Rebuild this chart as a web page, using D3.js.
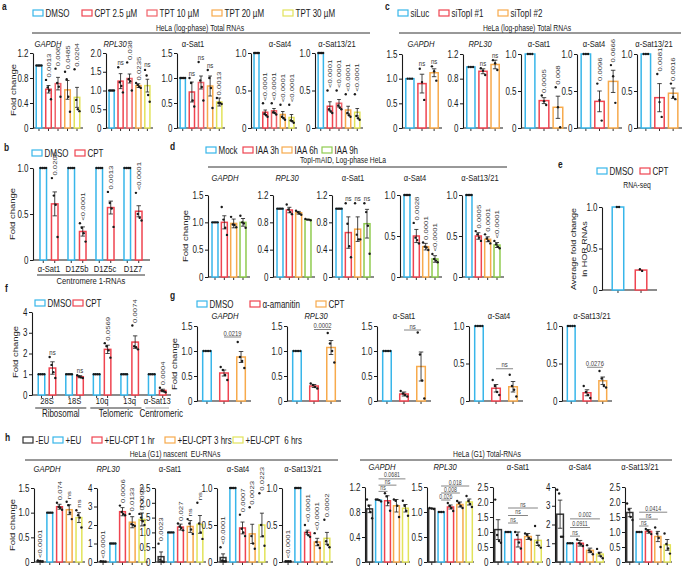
<!DOCTYPE html>
<html><head><meta charset="utf-8">
<script src="https://cdn.jsdelivr.net/npm/d3@7"></script>
<style>
body{margin:0;background:#fff}
svg{display:block;font-family:"Liberation Sans",Arial,Helvetica,sans-serif}
</style></head><body>
<svg id="fig" width="683" height="570"></svg>
<script>
// ================= DATA =================
const targets = ["GAPDH","RPL30","α-Sat1","α-Sat4","α-Sat13/21"];

// ---- a ----
const aSeries = ["DMSO","CPT 2.5 µM","TPT 10 µM","TPT 20 µM","TPT 30 µM"];
const aTitle = "HeLa (log-phase) Total RNAs";
const aValues = [[1.0,0.62,0.71,0.61,0.49],[1.0,1.25,1.32,1.13,1.13],[1.0,0.72,0.91,0.84,0.52],[1.0,0.21,0.23,0.18,0.14],[1.0,0.29,0.33,0.24,0.21]];
const aErrors = [[0,0.06,0.10,0.15,0.16],[0,0.20,0.12,0.05,0.17],[0,0.20,0.13,0.20,0.08],[0,0.03,0.03,0.04,0.04],[0,0.06,0.05,0.05,0.05]];
const aPoints = [
 [[1,1,1,1],[0.77,0.65,0.6,0.46],[0.95,0.72,0.66,0.5],[0.9,0.78,0.5,0.26],[0.94,0.45,0.3,0.27]],
 [[1,1,1,1],[1.62,1.22,1.12,0.95],[1.75,1.3,1.25,1.0],[1.2,1.15,1.1,1.07],[1.55,1.4,0.88,0.7]],
 [[1,1,1,1],[1.0,0.9,0.55,0.43],[1.32,0.95,0.82,0.55],[1.16,1.0,0.8,0.4],[0.6,0.5,0.5,0.48]],
 [[1,1,1,1],[0.33,0.19,0.17,0.15],[0.33,0.21,0.2,0.18],[0.31,0.15,0.13,0.11],[0.31,0.1,0.09,0.07]],
 [[1,1,1,1],[0.5,0.25,0.22,0.2],[0.5,0.3,0.27,0.25],[0.45,0.2,0.17,0.15],[0.45,0.16,0.13,0.11]]];
const aPvals = [["","0.0013","0.008","0.0485","0.0204"],["","ns","0.038","0.0235","ns"],["","ns","ns","ns","0.0013"],["","<0.0001","<0.0001","<0.0001","<0.0001"],["","<0.0001","<0.0001","<0.0001","<0.0001"]];
const aTicks = [[0,0.4,0.8,1.2],[0,0.5,1,1.5,2],[0,0.5,1,1.5],[0,0.5,1],[0,0.5,1]];

// ---- b ----
const bSeries = ["DMSO","CPT"];
const bGroups = ["α-Sat1","D1Z5b","D1Z5c","D1Z7"];
const bCaption = "Centromere 1-RNAs";
const bValues = [[1,1,1,1],[0.61,0.31,0.57,0.53]];
const bErrors = [[0,0,0,0],[0.13,0.05,0.07,0.06]];
const bPoints = [[[1,1,1,1],[1,1,1,1],[1,1,1,1],[1,1,1,1]],[[0.89,0.7,0.6,0.25],[0.4,0.35,0.29,0.2],[0.74,0.62,0.56,0.36],[0.73,0.5,0.46,0.43]]];
const bPvals = [["","","",""],["0.0206","<0.0001","0.0013","<0.0001"]];
const bTicks = [0,0.5,1];

// ---- c ----
const cSeries = ["siLuc","siTopI #1","siTopI #2"];
const cTitle = "HeLa (log-phase) Total RNAs";
const cValues = [[1.0,0.9,1.12],[0.99,0.92,1.03],[1.0,0.37,0.28],[1.0,0.36,0.63],[1.0,0.41,0.47]];
const cErrors = [[0,0.19,0.08],[0,0.04,0.07],[0,0.04,0.15],[0,0.14,0.15],[0,0.19,0.07]];
const cPoints = [
 [[1,1,1],[1.2,0.93,0.57],[1.25,1.15,0.96]],
 [[0.99,0.99,0.99],[0.97,0.93,0.86],[1.1,1.05,0.94]],
 [[1,1,1],[0.44,0.36,0.31],[0.55,0.28,0.01]],
 [[1,1,1],[0.6,0.38,0.1],[0.85,0.7,0.34]],
 [[1,1,1],[0.73,0.35,0.15],[0.6,0.42,0.39]]];
const cPvals = [["","ns","ns"],["","ns","ns"],["","0.0005","0.008"],["","0.0096","0.0666"],["","0.0081","0.0016"]];
const cTicks = [[0,0.5,1,1.5],[0,0.4,0.8,1.2],[0,0.5,1],[0,0.5,1],[0,0.5,1]];

// ---- d ----
const dSeries = ["Mock","IAA 3h","IAA 6h","IAA 9h"];
const dTitle = "TopI-mAID, Log-phase HeLa";
const dValues = [[1.0,1.0,0.98,1.0],[1.0,0.98,0.94,0.84],[1.0,0.65,0.7,0.78],[1.0,0.5,0.37,0.22],[1.0,0.5,0.46,0.39]];
const dErrors = [[0,0.12,0.08,0.07],[0,0.04,0.02,0.01],[0,0.23,0.18,0.21],[0,0.08,0.04,0.04],[0,0.04,0.03,0.03]];
const dPoints = [
 [[1,1,1,1],[1.28,1.05,0.9,0.77],[1.1,0.96,0.95,0.91],[1.12,1.0,0.98,0.9]],
 [[1,1,1,1],[1.06,0.99,0.95,0.92],[0.97,0.95,0.93,0.91],[0.85,0.84,0.84,0.83]],
 [[1,1,1,1],[1.08,0.78,0.45,0.29],[1.08,0.62,0.55,0.55],[1.08,0.95,0.75,0.34]],
 [[1,1,1,1],[0.66,0.48,0.45,0.41],[0.42,0.37,0.36,0.33],[0.28,0.22,0.2,0.18]],
 [[1,1,1,1],[0.56,0.52,0.48,0.44],[0.52,0.47,0.44,0.41],[0.44,0.4,0.37,0.35]]];
const dPvals = [["","","",""],["","","",""],["","ns","ns","ns"],["","0.0028","0.0001","<0.0001"],["","0.0005","0.0001","<0.0001"]];
const dTicks = [[0,0.5,1,1.5],[0,0.4,0.8,1.2],[0,0.4,0.8,1.2],[0,0.5,1],[0,0.5,1]];

// ---- e ----
const eSeries = ["DMSO","CPT"];
const eTitle = "RNA-seq";
const eYLabel = ["Average fold change","in HOR RNAs"];
const eValues = [1.0,0.24];
const eErrors = [0,0.01];
const ePoints = [[1,1],[0.25,0.23]];
const eTicks = [0,0.5,1];

// ---- f ----
const fSeries = ["DMSO","CPT"];
const fGroups = ["28S","18S","10q","13q","α-Sat13"];
const fCategories = [{label:"Ribosomal",from:0,to:1},{label:"Telomeric",from:2,to:3},{label:"Centromeric",from:4,to:4}];
const fValues = [[1,1,1,1,1],[1.3,0.88,2.2,2.55,0.22]];
const fErrors = [[0,0,0,0,0],[0.3,0.05,0.2,0.3,0.06]];
const fPoints = [[[1,1,1,1],[1,1,1,1],[1,1,1,1],[1,1,1,1],[1,1,1,1]],[[1.83,1.45,1.1,0.82],[0.95,0.9,0.85,0.82],[2.5,2.35,2.15,1.8],[3.35,2.35,2.3,2.2],[0.35,0.22,0.18,0.13]]];
const fPvals = [["","","","",""],["ns","ns","0.0569","0.0074","0.0004"]];
const fTicks = [0,1,2,3,4];

// ---- g ----
const gSeries = ["DMSO","α-amanitin","CPT"];
const gValues = [[1.0,0.56,0.88],[1.0,0.3,1.07],[1.0,0.14,0.69],[1.0,0.17,0.19],[1.0,0.11,0.27]];
const gErrors = [[0,0.06,0.11],[0,0.03,0.14],[0,0.04,0.29],[0,0.05,0.07],[0,0.04,0.05]];
const gPoints = [
 [[1,1,1,1],[0.68,0.62,0.52,0.42],[1.18,0.88,0.8,0.66]],
 [[1,1,1,1],[0.35,0.32,0.28,0.25],[1.36,1.15,1.0,0.77]],
 [[1,1,1,1],[0.2,0.15,0.12,0.09],[1.37,0.93,0.41,0.05]],
 [[1,1,1,1],[0.28,0.2,0.12,0.08],[0.35,0.2,0.15,0.06]],
 [[1,1,1,1],[0.2,0.12,0.08,0.04],[0.4,0.3,0.2,0.18]]];
const gBrackets = [[[1,2,"0.0219",1.28]],[[1,2,"0.0002",1.43]],[[1,2,"ns",1.42]],[[1,2,"ns",0.43]],[[1,2,"0.0276",0.45]]];
const gTicks = [[0,0.5,1,1.5],[0,0.5,1,1.5],[0,0.5,1,1.5],[0,0.5,1],[0,0.5,1]];

// ---- h ----
const hSeries = ["-EU","+EU","+EU-CPT 1 hr","+EU-CPT 3 hrs","+EU-CPT  6 hrs"];
const hnTitle = "HeLa (G1) nascent  EU-RNAs";
const htTitle = "HeLa (G1) Total-RNAs";
const hnValues = [[0.02,1.0,1.12,1.06,0.9],[0.03,1.0,2.72,2.15,2.3],[0.18,1.0,1.18,1.2,1.27],[0.06,1.0,0.46,0.38,0.5],[0.01,1.0,0.4,0.27,0.32]];
const hnErrors = [[0.01,0,0.05,0.1,0.1],[0.01,0,0.22,0.3,0.35],[0.16,0,0.1,0.2,0.3],[0.05,0,0.08,0.13,0.16],[0.005,0,0.03,0.05,0.08]];
const hnPoints = [
 [[0.03,0.02,0.01],[1,1,1,1],[1.2,1.12,1.1,1.06],[1.22,1.15,1.0,0.87],[1.05,0.95,0.9,0.7]],
 [[0.04,0.03,0.02],[1,1,1,1],[3.05,2.7,2.6,2.53],[2.6,2.05,2.0,1.95],[2.6,2.4,2.2,2.0]],
 [[0.62,0.08,0.02,0.0],[1,1,1,1],[1.3,1.2,1.15,1.07],[1.45,1.3,1.1,0.95],[2.0,1.3,1.0,0.78]],
 [[0.2,0.02,0.01,0.01],[1,1,1,1],[0.64,0.45,0.4,0.35],[0.74,0.35,0.25,0.18],[0.93,0.5,0.35,0.22]],
 [[0.01,0.01,0.01],[1,1,1,1],[0.5,0.4,0.36,0.34],[0.39,0.27,0.23,0.19],[0.57,0.28,0.23,0.2]]];
const hnPvals = [["<0.0001","","0.074","ns","ns"],["<0.0001","","0.0006","0.0133","0.0092"],["0.0023","","0.027","ns","ns"],["<0.0001","","0.0007","0.0023","0.0223"],["<0.0001","","<0.0001","<0.0001","0.0002"]];
const hnTicks = [[0,0.5,1,1.5],[0,1,2,3,4],[0,0.5,1,1.5,2,2.5],[0,0.5,1],[0,0.5,1]];

const htValues = [[0.85,0.99,0.98,0.9,0.86],[1.07,1.0,1.1,1.15,1.2],[1.08,1.0,0.75,0.85,0.72],[2.55,1.0,1.0,0.62,0.42],[1.65,1.0,1.02,0.85,0.57]];
const htErrors = [[0.06,0,0.08,0.1,0.06],[0.01,0,0.04,0.05,0.06],[0.33,0,0.25,0.1,0.17],[0.75,0,0.15,0.12,0.1],[0.14,0,0.06,0.17,0.18]];
const htPoints = [
 [[1.0,0.9,0.8,0.7],[1,1,0.99,0.97],[1.1,1.05,0.95,0.82],[1.0,0.98,0.9,0.72],[0.98,0.9,0.82,0.74]],
 [[1.08,1.07,1.06],[1,1,1],[1.18,1.12,1.08,1.02],[1.22,1.18,1.12,1.08],[1.32,1.22,1.16,1.1]],
 [[2.08,0.9,0.7,0.64],[1,1,1],[1.0,0.9,0.65,0.45],[0.95,0.9,0.8,0.75],[1.2,0.65,0.55,0.48]],
 [[3.85,3.65,1.35,1.35],[1,1,1],[1.2,1.0,0.95,0.85],[0.9,0.62,0.55,0.41],[0.7,0.48,0.3,0.2]],
 [[1.95,1.75,1.5,1.4],[1,1,1],[1.1,1.05,1.0,0.93],[1.15,0.95,0.8,0.5],[0.95,0.6,0.45,0.28]]];
const htBrackets = [
 [[1,2,"ns",1.13],[1,3,"ns",1.23],[1,4,"0.0681",1.33]],
 [[1,2,"0.026",1.24],[1,3,"0.008",1.38],[1,4,"0.018",1.52]],
 [[1,2,"ns",1.3],[1,3,"ns",1.55],[1,4,"ns",1.8]],
 [[1,2,"ns",1.38],[1,3,"0.0911",1.84],[1,4,"0.002",2.3]],
 [[1,2,"ns",1.2],[1,3,"ns",1.43],[1,4,"0.0414",1.66]]];
const htTicks = [[0,0.4,0.8,1.2],[0,0.5,1,1.5],[0,0.5,1,1.5,2,2.5],[0,1,2,3,4],[0,0.5,1,1.5,2,2.5]];

// ================= STYLE / LAYOUT =================
const BLUE="#38b6ea", RED="#ef4450", RED2="#f0636a", ORANGE="#f7aa4c", YELLOW="#e2e35a", GREEN="#8fcb4f", DARK="#333333";
const INK = "#1a1a1a";
const SX = 0.8;
const FONT = '"Liberation Sans", Arial, Helvetica, sans-serif';
const TICK_FS = 10;
const svg = d3.select("#fig");

function txt(g, x, y, s, o = {}) {
  const t = g.append("text").text(s)
    .attr("transform", `translate(${x},${y}) scale(${SX},1)` + (o.rot ? " rotate(-90)" : ""))
    .attr("font-size", o.size || 10)
    .attr("text-anchor", o.anchor || "start")
    .attr("fill", o.fill || INK)
    .style("white-space", "pre");
  if (o.bold) t.attr("font-weight", "bold");
  if (o.italic) t.attr("font-style", "italic");
  if (o.dy) t.attr("dy", o.dy);
  return t;
}
function legend(labels, colors, xs, y) {
  labels.forEach((lab, i) => {
    svg.append("rect").attr("x", xs[i]).attr("y", y - 3).attr("width", 10).attr("height", 6)
      .attr("fill", "#fff").attr("stroke", colors[i]).attr("stroke-width", 1.2);
    txt(svg, xs[i] + 12.5, y + 3.6, lab, {size: 10});
  });
}
function header(s, cx, by, x1, x2, ly) {
  txt(svg, cx, by, s, {size: 8.5, anchor: "middle"});
  if (x1 !== undefined) svg.append("line").attr("x1", x1).attr("x2", x2).attr("y1", ly).attr("y2", ly).attr("stroke", "#333").attr("stroke-width", 1);
}
const fmt1 = d => d === 0 ? "0" : d3.format(".1f")(d);
const fmtInt = d => String(d);
function yAxis(g, xPos, y, ticks, fmt) {
  const ax = g.append("g").attr("transform", `translate(${xPos},0)`)
    .call(d3.axisLeft(y).tickValues(ticks).tickSize(3).tickSizeOuter(0).tickFormat(fmt));
  ax.attr("font-family", FONT);
  ax.select(".domain").attr("stroke", INK).attr("stroke-width", 1.1);
  ax.selectAll(".tick line").attr("stroke", INK).attr("stroke-width", 1);
  ax.selectAll(".tick text").attr("x", null).attr("font-size", TICK_FS).attr("fill", INK)
    .attr("transform", `translate(-4.5,0) scale(${SX},1)`);
}
function xAxis(g, x0, x1, yb, centers) {
  g.append("line").attr("x1", x0).attr("x2", x1).attr("y1", yb).attr("y2", yb).attr("stroke", INK).attr("stroke-width", 1.1);
  centers.forEach(c => g.append("line").attr("x1", c).attr("x2", c).attr("y1", yb).attr("y2", yb + 3).attr("stroke", INK).attr("stroke-width", 0.9));
}
function drawBars(g, y, bars) {
  bars.forEach(b => {
    const y0 = y(0), yt = y(b.v);
    g.append("rect").attr("x", b.c - b.w / 2 + 0.75).attr("y", Math.min(yt, y0 - 0.6))
      .attr("width", b.w - 1.5).attr("height", Math.max(0.6, y0 - yt))
      .attr("fill", "#fff").attr("stroke", b.color).attr("stroke-width", 1.5);
  });
  bars.forEach(b => {
    if (b.e > 0.012) {
      const cw = Math.min(4.5, b.w * 0.55);
      const yl = y(Math.max(0, b.v - b.e)), yh = y(b.v + b.e);
      g.append("line").attr("x1", b.c).attr("x2", b.c).attr("y1", yl).attr("y2", yh).attr("stroke", INK).attr("stroke-width", 0.8);
      [yl, yh].forEach(yy => g.append("line").attr("x1", b.c - cw / 2).attr("x2", b.c + cw / 2).attr("y1", yy).attr("y2", yy).attr("stroke", INK).attr("stroke-width", 0.8));
    }
    const m = b.pts.length;
    const sp = Math.min(2.2, (b.w * 0.7) / Math.max(1, m - 1));
    b.pts.forEach((p, k) => g.append("circle").attr("cx", b.c + (k - (m - 1) / 2) * sp).attr("cy", y(p)).attr("r", 1.2).attr("fill", INK));
    if (b.pv) {
      const top = Math.max(b.v + b.e, d3.max(b.pts));
      const yy = y(top) - 2.5;
      if (b.pv === "ns" && !b.nsRot) txt(g, b.c, yy, "ns", {size: 7.5, anchor: "middle", fill: "#333"});
      else txt(g, b.c, yy, b.pv, {size: 7.8, rot: true, dy: "0.35em", fill: "#333"});
    }
  });
}
function brackets(g, y, centers, list, fs) {
  list.forEach(([i, j, lab, v]) => {
    g.append("line").attr("x1", centers[i]).attr("x2", centers[j]).attr("y1", y(v)).attr("y2", y(v)).attr("stroke", "#666").attr("stroke-width", 0.8);
    txt(g, (centers[i] + centers[j]) / 2, y(v) - 1.5, lab, {size: fs || 7.4, anchor: "middle", fill: "#444"});
  });
}
function multiPanel(L, D) {
  targets.forEach((t, k) => {
    const g = svg.append("g");
    const ticks = D.ticks[k];
    const y = d3.scaleLinear().domain([0, d3.max(ticks)]).range([L.base, L.top]);
    const n = D.values[k].length;
    const x = d3.scaleBand().domain(d3.range(n)).range([L.xs[k], L.xs[k] + L.ws[k]]).paddingInner(L.pi).paddingOuter(L.po);
    const bw = x.bandwidth();
    const centers = d3.range(n).map(i => x(i) + bw / 2);
    const bars = D.values[k].map((v, i) => ({c: centers[i], w: bw, v, e: D.errors[k][i], pts: D.points[k][i], color: D.colors[i], pv: D.pvals ? D.pvals[k][i] : "", nsRot: D.nsRot}));
    yAxis(g, L.xs[k], y, ticks, D.fmts && D.fmts[k] === "int" ? fmtInt : fmt1);
    xAxis(g, L.xs[k], L.xs[k] + L.ws[k], L.base, centers);
    drawBars(g, y, bars);
    if (D.brackets) brackets(g, y, centers, D.brackets[k], D.bracketFs);
    txt(g, L.tx[k], L.ty, t, {size: 9.5, anchor: "middle", italic: /^(GAPDH|RPL30)$/.test(t)});
  });
}
function groupPanel(L, D) {
  const g = svg.append("g");
  const y = d3.scaleLinear().domain([0, d3.max(D.ticks)]).range([L.base, L.top]);
  const x0 = d3.scaleBand().domain(d3.range(D.groups.length)).range([L.gx0, L.gx1]);
  const x1 = d3.scaleBand().domain(d3.range(D.series.length)).range([0, x0.bandwidth()]).paddingInner(L.pi).paddingOuter(L.po);
  const bars = [];
  D.groups.forEach((gr, gi) => D.series.forEach((s, si) => {
    bars.push({c: x0(gi) + x1(si) + x1.bandwidth() / 2, w: x1.bandwidth(), v: D.values[si][gi], e: D.errors[si][gi], pts: D.points[si][gi], color: D.colors[si], pv: D.pvals[si][gi]});
  }));
  yAxis(g, L.x, y, D.ticks, D.fmt);
  xAxis(g, L.x, L.xEnd, L.base, bars.map(b => b.c));
  drawBars(g, y, bars);
  D.groups.forEach((gr, gi) => txt(g, x0(gi) + x0.bandwidth() / 2, L.labY, gr, {size: 9.5, anchor: "middle"}));
  return {g, x0};
}

// ================= DRAW =================
// panel letters
[["a",2,10],["b",4,151],["c",385,10],["d",170,150],["e",558,168],["f",5,292],["g",170,299],["h",5,441]]
  .forEach(([s, x, y]) => txt(svg, x, y, s, {size: 10.5, bold: true}));

// fold change labels
[[13,90],[12,214],[185,236],[15,352],[174,364],[12,525]].forEach(([x, y]) => txt(svg, x, y, "Fold change", {size: 9.5, rot: true, anchor: "middle", dy: "0.35em"}));

// ---- a ----
legend(aSeries, [BLUE, RED, RED2, ORANGE, YELLOW], [33, 82, 147, 212, 283], 13);
header(aTitle, 200, 30.5, 32, 370, 33);
multiPanel({base: 128, top: 53, xs: [33, 106, 177, 251, 315], ws: [50, 47, 48, 46, 48], tx: [48, 115, 193, 280, 337], ty: 47, pi: 0.26, po: 0.26},
  {values: aValues, errors: aErrors, points: aPoints, pvals: aPvals, ticks: aTicks, colors: [BLUE, RED, RED2, ORANGE, YELLOW]});

// ---- c ----
legend(cSeries, [BLUE, RED, ORANGE], [398, 439, 498], 13);
header(cTitle, 527, 30.5, 399, 681, 33);
multiPanel({base: 128, top: 54, xs: [402, 463, 521, 577, 637], ws: [40, 40, 46, 45, 45], tx: [421, 480, 539, 594, 654], ty: 46.5, pi: 0.2, po: 0.25},
  {values: cValues, errors: cErrors, points: cPoints, pvals: cPvals, ticks: cTicks, colors: [BLUE, RED, ORANGE]});

// ---- b ----
legend(bSeries, [BLUE, RED], [32, 75], 153);
{
  const L = {x: 33, xEnd: 150, gx0: 35, gx1: 147, base: 260, top: 168, pi: 0.3, po: 0.37, labY: 272};
  groupPanel(L, {groups: bGroups, series: bSeries, values: bValues, errors: bErrors, points: bPoints, pvals: bPvals, ticks: bTicks, fmt: fmt1, colors: [BLUE, RED]});
  svg.append("line").attr("x1", L.gx0 + 2).attr("x2", L.gx1 - 2).attr("y1", 275).attr("y2", 275).attr("stroke", "#333").attr("stroke-width", 1);
  txt(svg, (L.gx0 + L.gx1) / 2, 283.5, bCaption, {size: 9.5, anchor: "middle"});
}

// ---- d ----
legend(dSeries, [BLUE, RED, ORANGE, GREEN], [206, 243, 282, 322], 150);
header(dTitle, 343, 162.5, 208, 507, 167);
multiPanel({base: 277, top: 195, xs: [208, 273, 332, 400, 462], ws: [42, 42, 42, 42, 42], tx: [225, 287, 353, 415, 480], ty: 181, pi: 0.2, po: 0.35},
  {values: dValues, errors: dErrors, points: dPoints, pvals: dPvals, ticks: dTicks, colors: [BLUE, RED, ORANGE, GREEN]});

// ---- e ----
legend(eSeries, [BLUE, RED], [597, 640], 171);
header(eTitle, 637, 188);
{
  const g = svg.append("g");
  const y = d3.scaleLinear().domain([0, d3.max(eTicks)]).range([290, 207]);
  const x = d3.scaleBand().domain(d3.range(eValues.length)).range([602, 657]).paddingInner(0.435).paddingOuter(0.41);
  const centers = d3.range(eValues.length).map(i => x(i) + x.bandwidth() / 2);
  yAxis(g, 602, y, eTicks, fmt1);
  xAxis(g, 602, 657, 290, centers);
  drawBars(g, y, eValues.map((v, i) => ({c: centers[i], w: x.bandwidth(), v, e: eErrors[i], pts: ePoints[i], color: [BLUE, RED][i], pv: ""})));
  txt(svg, 573, 249, eYLabel[0], {size: 9, rot: true, anchor: "middle", dy: "0.35em"});
  txt(svg, 584, 249, eYLabel[1], {size: 9, rot: true, anchor: "middle", dy: "0.35em"});
}

// ---- f ----
legend(fSeries, [BLUE, RED], [35, 73], 303);
{
  const L = {x: 32, xEnd: 171, gx0: 33.2, gx1: 171, base: 395, top: 312, pi: 0.27, po: 0.39, labY: 404};
  const r = groupPanel(L, {groups: fGroups, series: fSeries, values: fValues, errors: fErrors, points: fPoints, pvals: fPvals, ticks: fTicks, fmt: fmtInt, colors: [BLUE, RED]});
  const bwG = r.x0.bandwidth();
  fCategories.forEach((cat, i) => {
    const xa = r.x0(cat.from) + 2, xb = r.x0(cat.to) + bwG - 2;
    svg.append("line").attr("x1", xa).attr("x2", xb).attr("y1", 408).attr("y2", 408).attr("stroke", i === 2 ? "#999" : "#333").attr("stroke-width", 1);
    txt(svg, (xa + xb) / 2 + (i === 2 ? 4 : 0), 417, cat.label, {size: 10, anchor: "middle"});
  });
}

// ---- g ----
legend(gSeries, [BLUE, RED, ORANGE], [197, 250, 316], 304);
multiPanel({base: 401, top: 326, xs: [197, 287, 377, 469, 562], ws: [54, 54, 54, 54, 50], tx: [225, 316, 404, 499, 592], ty: 318.5, pi: 0.41, po: 0.29},
  {values: gValues, errors: gErrors, points: gPoints, brackets: gBrackets, ticks: gTicks, colors: [BLUE, RED, ORANGE]});

// ---- h ----
const hColors = [DARK, BLUE, RED, ORANGE, YELLOW];
legend(hSeries, hColors, [23, 53, 92, 165, 233], 440);
header(hnTitle, 175, 456.5, 25, 338, 460);
header(htTitle, 487, 456.5, 360, 672, 460);
multiPanel({base: 562, top: 488, xs: [34, 97, 155, 217, 282], ws: [51, 51, 51, 51, 51], tx: [47, 108, 170, 238, 303], ty: 472, pi: 0.25, po: 0.25},
  {values: hnValues, errors: hnErrors, points: hnPoints, pvals: hnPvals, nsRot: true, ticks: hnTicks, fmts: ["f", "int", "f", "f", "f"], colors: hColors});
multiPanel({base: 562, top: 487, xs: [365, 427, 493, 555, 625], ws: [45, 47, 50, 50, 47], tx: [382, 445, 518, 580, 640], ty: 469.5, pi: 0.18, po: 0.1},
  {values: htValues, errors: htErrors, points: htPoints, brackets: htBrackets, bracketFs: 6.5, ticks: htTicks, fmts: ["f", "f", "f", "int", "f"], colors: hColors});
</script>
</body></html>
